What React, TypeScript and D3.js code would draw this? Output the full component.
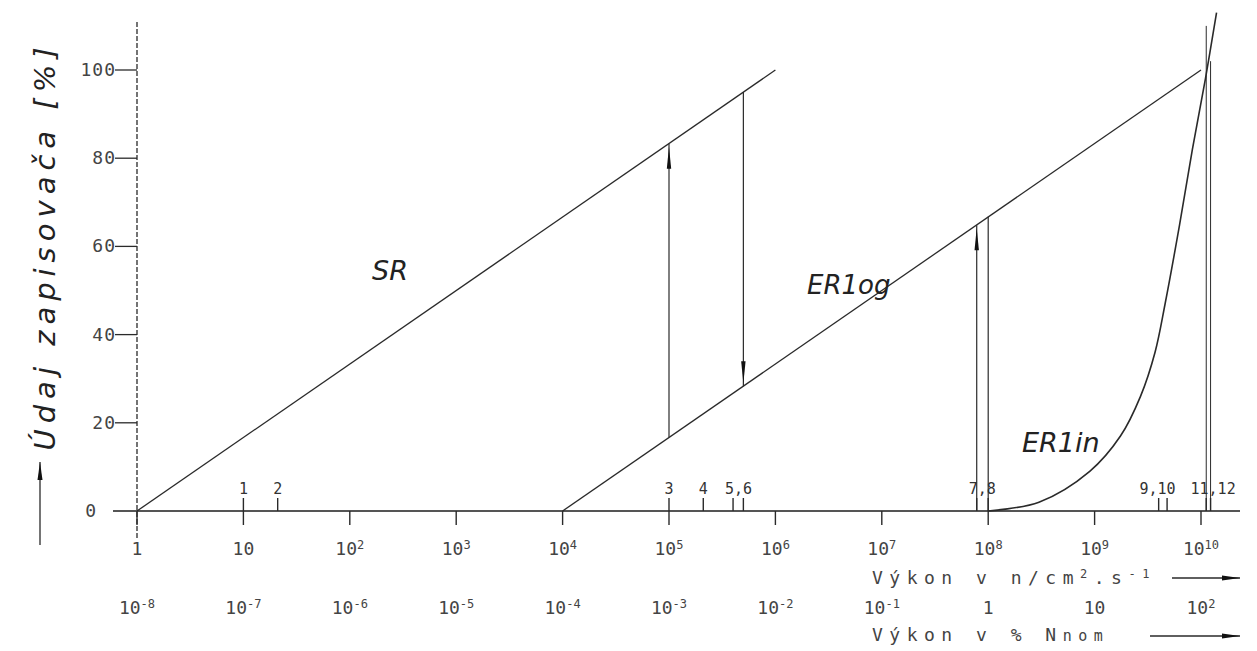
import React, { useEffect, useRef } from 'react';
import * as d3 from 'd3';

// decades of neutron flux, n/cm2.s-1
const decades = [1, 1e1, 1e2, 1e3, 1e4, 1e5, 1e6, 1e7, 1e8, 1e9, 1e10];
const fluxLabelBase = ['1', '10', '10', '10', '10', '10', '10', '10', '10', '10', '10'];
const fluxLabelExp = ['', '', '2', '3', '4', '5', '6', '7', '8', '9', '10'];
// same decades expressed as % of nominal power
const nomLabelBase = ['10', '10', '10', '10', '10', '10', '10', '10', '1', '10', '10'];
const nomLabelExp = ['-8', '-7', '-6', '-5', '-4', '-3', '-2', '-1', '', '', '2'];

const yTicks = [0, 20, 40, 60, 80, 100];

// recorder reading [flux, %]
const srLine: [number, number][] = [[1, 0], [1e6, 100]];
const erLogLine: [number, number][] = [[1e4, 0], [1e10, 100]];
const erLinCurve: [number, number][] = [
  [1e8, 0], [3e8, 2], [9e8, 9], [1.75e9, 17], [2.7e9, 26], [3.7e9, 36],
  [4.6e9, 47], [6.3e9, 65], [8.3e9, 82], [1.1e10, 98], [1.4e10, 113],
];

// numbered points on the flux axis
const markerFlux = [10, 21, 1e5, 2.1e5, 4.0e5, 5.0e5, 7.8e7, 1.0e8, 4.0e9, 4.8e9, 1.12e10, 1.23e10];
const markerText = ['1', '2', '3', '4', '5,6', '7,8', '9,10', '11,12'];
const markerTextFlux = [10, 21, 1e5, 2.1e5, 4.5e5, 8.8e7, 3.9e9, 1.3e10];

// vertical transitions between ranges: flux, bottom %, top %, arrow end
const jumpFlux = [1e5, 5.0e5, 7.8e7, 1.0e8, 1.12e10, 1.23e10];
const jumpBottom = [16.7, 28.3, 0, 0, 0, 0];
const jumpTop = [83.3, 95, 64.8, 66.7, 110, 102];
const jumpArrow = ['top', 'bottom', 'top', '', '', ''];

const width = 1257;
const height = 651;

export default function App() {
  const ref = useRef<SVGSVGElement>(null);

  useEffect(() => {
    const svg = d3.select(ref.current);
    svg.selectAll('*').remove();

    const x = d3.scaleLog().domain([1, 1e10]).range([137, 1201]);
    const y = d3.scaleLinear().domain([0, 100]).range([511, 70]);

    const ink = '#2a2a2a';
    const plotFont = '"DejaVu Sans Mono", monospace';
    const handFont = '"DejaVu Sans", sans-serif';

    // y axis (dashed)
    svg.append('line')
      .attr('x1', x(1)).attr('x2', x(1))
      .attr('y1', 22).attr('y2', 540)
      .attr('stroke', ink).attr('stroke-width', 1.3)
      .attr('stroke-dasharray', '5,2');

    svg.selectAll('.ytick')
      .data(yTicks.filter(d => d > 0))
      .enter()
      .append('line')
      .attr('x1', x(1) - 22).attr('x2', x(1))
      .attr('y1', d => y(d)).attr('y2', d => y(d))
      .attr('stroke', ink).attr('stroke-width', 1.3);

    svg.selectAll('.ylabel')
      .data(yTicks)
      .enter()
      .append('text')
      .attr('x', d => (d === 0 ? 97 : x(1) - 21))
      .attr('y', d => y(d) + 6)
      .attr('text-anchor', 'end')
      .attr('font-family', plotFont)
      .attr('font-size', 18)
      .attr('letter-spacing', 1)
      .attr('fill', '#444')
      .text(d => d);

    // baseline
    svg.append('line')
      .attr('x1', 113).attr('x2', 1240)
      .attr('y1', y(0)).attr('y2', y(0))
      .attr('stroke', '#555').attr('stroke-width', 2);

    // decade ticks
    svg.selectAll('.xtick')
      .data(decades)
      .enter()
      .append('line')
      .attr('x1', d => x(d)).attr('x2', d => x(d))
      .attr('y1', y(0)).attr('y2', y(0) + 14)
      .attr('stroke', ink).attr('stroke-width', 1.4);

    // numbered marker ticks
    svg.selectAll('.mtick')
      .data(markerFlux)
      .enter()
      .append('line')
      .attr('x1', d => x(d)).attr('x2', d => x(d))
      .attr('y1', y(0) - 13).attr('y2', y(0))
      .attr('stroke', ink).attr('stroke-width', 1.4);

    svg.selectAll('.mlabel')
      .data(markerText)
      .enter()
      .append('text')
      .attr('x', (d, i) => x(markerTextFlux[i]))
      .attr('y', y(0) - 17)
      .attr('text-anchor', 'middle')
      .attr('font-family', plotFont)
      .attr('font-size', 15)
      .attr('fill', '#333')
      .text(d => d);

    // flux labels
    const fl = svg.selectAll('.flabel')
      .data(decades)
      .enter()
      .append('text')
      .attr('x', d => x(d))
      .attr('y', 555)
      .attr('text-anchor', 'middle')
      .attr('font-family', plotFont)
      .attr('font-size', 18)
      .attr('fill', '#444');
    fl.append('tspan').text((d, i) => fluxLabelBase[i]);
    fl.append('tspan').attr('dy', -6).attr('font-size', 12).text((d, i) => fluxLabelExp[i]);

    // % Nnom labels
    const nl = svg.selectAll('.nlabel')
      .data(decades)
      .enter()
      .append('text')
      .attr('x', d => x(d))
      .attr('y', 614)
      .attr('text-anchor', 'middle')
      .attr('font-family', plotFont)
      .attr('font-size', 18)
      .attr('fill', '#444');
    nl.append('tspan').text((d, i) => nomLabelBase[i]);
    nl.append('tspan').attr('dy', -6).attr('font-size', 12).text((d, i) => nomLabelExp[i]);

    // curves
    const line = d3.line<[number, number]>()
      .x(d => x(d[0]))
      .y(d => y(d[1]));

    svg.append('path').attr('d', line(srLine))
      .attr('fill', 'none').attr('stroke', ink).attr('stroke-width', 1.3);
    svg.append('path').attr('d', line(erLogLine))
      .attr('fill', 'none').attr('stroke', ink).attr('stroke-width', 1.3);
    svg.append('path').attr('d', line.curve(d3.curveCatmullRom.alpha(0.5))(erLinCurve))
      .attr('fill', 'none').attr('stroke', ink).attr('stroke-width', 1.6);

    // range transitions
    jumpFlux.forEach((f, i) => {
      const xx = x(f);
      svg.append('line')
        .attr('x1', xx).attr('x2', xx)
        .attr('y1', y(jumpBottom[i])).attr('y2', y(jumpTop[i]))
        .attr('stroke', ink).attr('stroke-width', i >= 4 ? 1 : 1.2);
      if (jumpArrow[i] === 'top') {
        const yt = y(jumpTop[i]) + 3;
        svg.append('path')
          .attr('d', `M${xx},${yt} L${xx + 2.2},${yt + 22} L${xx - 2.2},${yt + 22} Z`)
          .attr('fill', '#111');
      } else if (jumpArrow[i] === 'bottom') {
        const yb = y(jumpBottom[i]) - 3;
        svg.append('path')
          .attr('d', `M${xx},${yb} L${xx + 2.2},${yb - 22} L${xx - 2.2},${yb - 22} Z`)
          .attr('fill', '#111');
      }
    });

    // curve names (handwritten)
    const hand = (t: string, px: number, py: number, fs: number) =>
      svg.append('text')
        .attr('x', px).attr('y', py)
        .attr('font-family', handFont)
        .attr('font-style', 'italic')
        .attr('font-size', fs)
        .attr('fill', '#222')
        .text(t);
    hand('SR', 372, 280, 27);
    hand('ER1og', 807, 294, 26);
    hand('ER1in', 1022, 452, 27);

    // y title
    svg.append('text')
      .attr('transform', 'translate(55,246) rotate(-90)')
      .attr('text-anchor', 'middle')
      .attr('font-family', handFont)
      .attr('font-style', 'italic')
      .attr('font-size', 29)
      .attr('letter-spacing', 6)
      .attr('fill', '#222')
      .text('Údaj zapisovača [%]');

    const arrow = (x1: number, y1: number, x2: number, y2: number) => {
      svg.append('line')
        .attr('x1', x1).attr('y1', y1).attr('x2', x2).attr('y2', y2)
        .attr('stroke', ink).attr('stroke-width', 1.3);
      const ang = Math.atan2(y2 - y1, x2 - x1);
      const len = 18;
      const w = 2.5;
      const bx = x2 - len * Math.cos(ang);
      const by = y2 - len * Math.sin(ang);
      svg.append('path')
        .attr('d', `M${x2},${y2} L${bx - w * Math.sin(ang)},${by + w * Math.cos(ang)} L${bx + w * Math.sin(ang)},${by - w * Math.cos(ang)} Z`)
        .attr('fill', '#111');
    };
    arrow(40, 545, 40, 462);

    // x titles
    const t1 = svg.append('text')
      .attr('x', 872).attr('y', 584)
      .attr('font-family', plotFont)
      .attr('font-size', 18)
      .attr('letter-spacing', 6.5)
      .attr('fill', '#444');
    t1.append('tspan').text('Výkon v n/cm');
    t1.append('tspan').attr('dy', -6).attr('font-size', 12).text('2');
    t1.append('tspan').attr('dy', 6).text('.s');
    t1.append('tspan').attr('dy', -6).attr('font-size', 12).text('-1');
    arrow(1172, 578, 1240, 578);

    const t2 = svg.append('text')
      .attr('x', 872).attr('y', 641)
      .attr('font-family', plotFont)
      .attr('font-size', 18)
      .attr('letter-spacing', 6.5)
      .attr('fill', '#444');
    t2.append('tspan').text('Výkon v % N');
    t2.append('tspan').attr('font-size', 15).text('nom');
    arrow(1150, 636, 1240, 636);
  }, []);

  return (
    <svg ref={ref} width={width} height={height} style={{ position: 'absolute', left: 0, top: 0, background: '#fff' }} />
  );
}
